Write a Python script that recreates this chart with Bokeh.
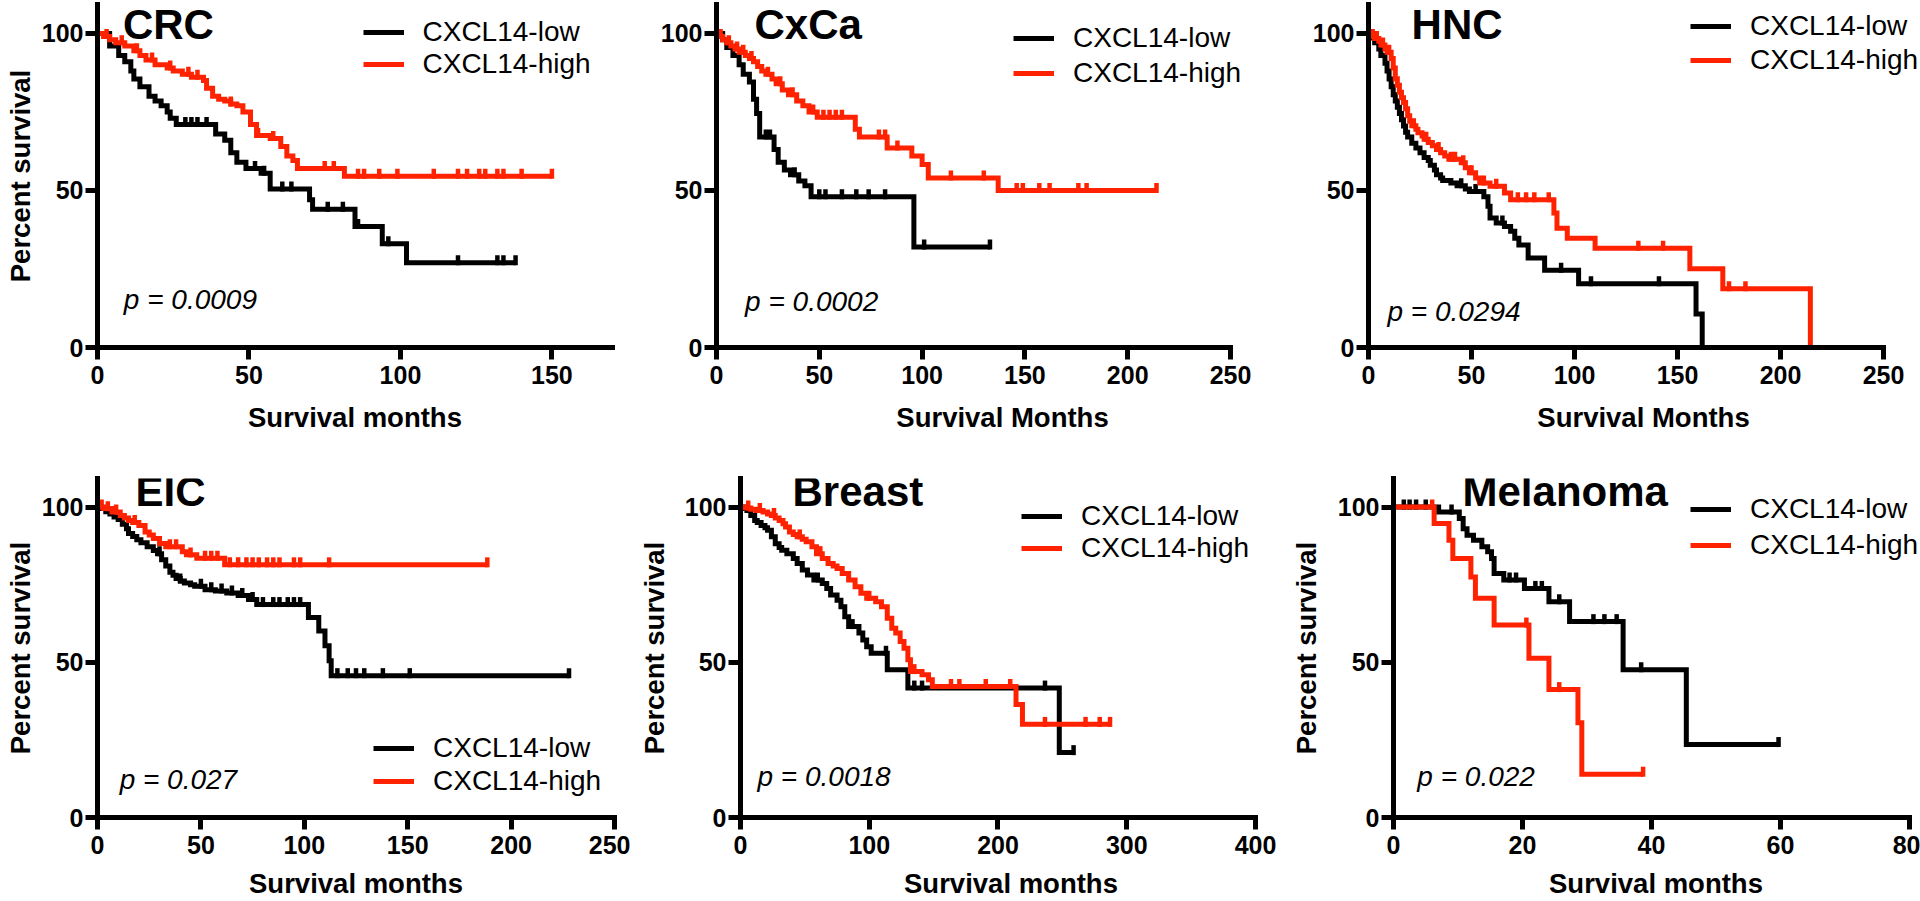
import numpy as np
from bokeh.plotting import figure
from bokeh.models import FixedTicker, Legend, LegendItem, Label, Range1d
from bokeh.layouts import column, row
from bokeh.embed import file_html
from bokeh.resources import INLINE

# ---------------- data ----------------
labels = ["CXCL14-low", "CXCL14-high"]

# CRC
crc_low_t = [0, 4, 7, 9, 11, 12, 14, 17, 19, 21, 23, 24, 26, 39, 42, 44, 46, 49, 54, 57, 70, 71, 85, 94, 102, 138]
crc_low_s = [100, 96, 93, 91, 88, 85.5, 83, 80, 78.5, 77, 75, 73, 71, 68, 66, 62, 59, 57, 55.5, 50.5, 47, 44, 38.5, 33, 27, 27]
crc_low_c = [29, 31, 33, 36, 52, 55, 61, 64, 76, 81, 86, 96, 119, 132, 134, 138]
crc_high_t = [0, 2, 4, 6, 9, 12, 14, 16, 19, 23, 25, 28, 31, 35, 36, 38, 40, 42, 44, 46, 48, 50.5, 52.5, 57, 60.5, 62.5, 64.5, 66, 81.5, 150]
crc_high_s = [100, 99, 98, 97, 96, 94.5, 93, 91.5, 90, 89, 88, 87, 86, 85, 82.5, 80, 79, 78.5, 77.5, 77, 75, 71, 67.5, 66.5, 64, 61, 59.5, 57, 54.5, 54.5]
crc_high_c = [3, 8, 13, 18, 24, 30, 33, 44, 53, 58, 75, 78, 86, 88, 93, 99, 111, 119, 122, 126, 128, 132, 134, 140, 150]

# CxCa
cxca_low_t = [0, 3, 5, 8, 11, 13, 16, 18, 19.5, 21, 28, 30, 33, 36, 40, 43, 46, 96, 133]
cxca_low_s = [100, 98, 95.5, 93, 90, 87, 84.5, 79, 74.5, 67, 63, 59, 56.5, 55, 53, 51.5, 48, 32, 32]
cxca_low_c = [24, 26, 38, 50, 53, 61, 68, 74, 82, 101, 133]
cxca_high_t = [0, 1, 3, 5, 7, 9, 11, 14, 16, 18, 20, 22, 24, 27, 29, 32, 35, 39, 42, 45, 49, 67.5, 69.5, 83, 95, 100, 103, 137, 214]
cxca_high_s = [100, 99, 98, 97, 96, 95, 94, 93, 92, 91, 89.5, 88, 87, 85.5, 84, 82, 80.5, 78.5, 77, 75, 73.3, 69.5, 67, 63.5, 61, 58.3, 54, 50, 50]
cxca_high_c = [2, 6, 10, 13, 17, 25, 31, 37, 47, 52, 55, 58, 61, 79, 82, 88, 114, 130, 146, 149, 157, 162, 176, 180, 214]

# HNC
hnc_low_t = [0, 2, 3, 5, 6, 8, 9, 10, 11, 12, 13, 14, 15, 16, 17, 18, 19, 21, 23, 25, 27, 29, 30, 32, 33, 35, 36, 40, 43, 47, 49, 56, 58, 59, 62, 66, 69, 71, 73, 77.5, 85.5, 102, 159, 162]
hnc_low_s = [100, 98.5, 97, 95, 93, 90.5, 88, 85.5, 83, 80.5, 78.5, 76.5, 74.5, 72.5, 70.5, 68.5, 67, 65, 63.5, 62, 60.5, 59.5, 58, 56.5, 55, 54, 53.2, 52.4, 51.5, 50.5, 49.7, 48, 45, 41.2, 39.6, 38.5, 37, 34.8, 32.6, 28.5, 24.6, 20.3, 10.7, 0]
hnc_low_c = [45, 52, 65, 93.5, 108, 141]
hnc_high_t = [0, 1, 3, 5, 6, 8, 9, 11, 12, 13, 14, 15, 16, 17, 18, 19, 20, 21, 23, 24, 26, 27, 29, 31, 33, 35, 37, 39, 45, 47, 49, 52, 54, 59, 66, 69, 90, 91.5, 96.5, 110, 156, 172, 214.5]
hnc_high_s = [100, 99, 98.4, 97.5, 96.3, 95, 94, 92, 89, 85.6, 83.5, 81.3, 79.5, 78, 76, 73.8, 72, 70.6, 69.5, 68.4, 67.3, 66.3, 65.3, 64.2, 63, 62, 61, 59.9, 58.8, 57.2, 55.6, 54, 52.4, 51.3, 49.2, 47, 42.8, 38, 34.8, 31.6, 25.1, 18.7, 0]
hnc_high_c = [2, 4, 7, 10, 22, 28, 34, 40, 42, 46, 50, 56, 62, 72.5, 76.5, 80.5, 87.5, 131, 143, 175, 183]

# EIC
eic_low_t = [0, 2, 4, 6, 8, 10, 12, 14, 15, 17, 19, 21, 24, 27, 29, 31, 33, 35, 36.5, 38, 40, 42, 45, 47, 52, 57, 62.5, 68, 73, 77, 102, 107, 110, 112, 113, 228]
eic_low_s = [100, 99.5, 98.5, 97.8, 96.8, 96, 94.5, 93, 91.5, 90.5, 89.5, 88.5, 87.2, 86, 85, 83, 81, 79, 78, 77, 76.2, 75.5, 75, 74.5, 73.4, 73, 72.3, 71.5, 70.2, 68.6, 64.4, 60.1, 55.3, 50.5, 45.7, 45.7]
eic_low_c = [30, 40, 50, 55, 60, 65, 70, 75, 80, 85, 88, 92, 95, 98, 116, 121, 125, 129, 138, 151, 228]
eic_high_t = [0, 3, 7, 11, 13, 15, 17, 20, 23, 25, 27, 30, 33, 41, 43, 48, 61.5, 188.5]
eic_high_s = [100, 99.5, 98.4, 97.3, 96.5, 95.7, 95, 94.1, 92, 91, 89.9, 88.3, 87.2, 85.6, 84.6, 83.5, 81.4, 81.4]
eic_high_c = [2, 5, 9, 18, 35, 38, 45, 52, 55, 58, 64, 68, 72, 75, 78, 82, 85, 88, 95, 98, 112, 188.5]

# Breast
breast_low_t = [0, 3, 5, 8, 11, 13, 16, 19, 21, 24, 27, 30, 32, 36, 41, 44, 48, 52, 57, 63.5, 67, 70, 75, 78, 81, 84, 92, 95, 98, 101.5, 114, 130, 247.6, 258.7]
breast_low_s = [100, 99.5, 98.9, 97.3, 95.7, 95, 94.1, 93.3, 92.5, 90.4, 88.2, 87, 86.1, 85, 83.4, 81.8, 79.7, 78.1, 76.5, 75.4, 73.8, 71.7, 70, 67.9, 64.7, 61.5, 59.4, 57.2, 55, 52.9, 47.6, 41.7, 20.9, 20.9]
breast_low_c = [60, 87, 113, 135, 141, 236.5, 258.7]
breast_high_t = [0, 4, 8, 12, 17.5, 21, 24, 27, 30, 33, 35, 38, 41, 44, 48, 51, 55.5, 59, 63.5, 68, 72, 75, 79, 84, 89, 93.5, 98, 105, 109.5, 114, 117.5, 120.6, 124, 127, 130, 132, 141, 146, 149, 214, 219, 287]
breast_high_s = [100, 99.7, 99.3, 98.9, 98.4, 97.8, 97.3, 96.5, 95.7, 94.6, 93.6, 92, 91.2, 90.4, 89.6, 88.8, 87.2, 85, 83.4, 81.8, 81, 80.2, 78.6, 76.5, 74.3, 72.2, 70.6, 69.5, 67.9, 64.2, 61, 59.4, 56.7, 54.5, 50.8, 47, 46, 44.4, 42.2, 36.4, 30, 30]
breast_high_c = [6, 15, 26, 46, 62, 100, 135, 163.5, 170, 190.5, 209.5, 236.5, 268, 279, 287]

# Melanoma
mel_low_t = [0, 7, 10.2, 10.8, 11.4, 12.4, 13.7, 14.6, 15.2, 15.6, 17.1, 20.3, 24.1, 27.3, 35.6, 45.4, 59.7]
mel_low_s = [100, 98.4, 96.3, 93, 90.9, 89.3, 87.2, 85.6, 83.4, 78.6, 76.5, 73.8, 69.5, 63.1, 47.6, 23.5, 23.5]
mel_low_c = [1.6, 2.5, 3.5, 5, 9, 18, 19, 22, 23, 25.7, 31, 32.7, 34.6, 38.4, 59.7]
mel_high_t = [0, 6.3, 8.6, 9.2, 12, 12.7, 15.6, 21, 24.1, 28.6, 29.2, 38.7]
mel_high_s = [100, 94.7, 89.3, 83.4, 77.5, 70.6, 62, 51.3, 41.2, 30.5, 13.9, 13.9]
mel_high_c = [6, 20.6, 25.7, 38.7]

p_values = ["p = 0.0009", "p = 0.0002", "p = 0.0294", "p = 0.027", "p = 0.0018", "p = 0.022"]
titles = ["CRC", "CxCa", "HNC", "EIC", "Breast", "Melanoma"]

# ---------------- style ----------------
BLACK = "#000000"
RED = "#FF2200"
FONT = "Liberation Sans"
PV_RAISE_PX = 11

# w/h: figure size; bl/br/bt/bb: borders; xmax: right end of frame; xb: axis extent
panels = [
    dict(title=titles[0], pv=p_values[0], w=640, h=455, bl=97, br=28, bt=4, bb=108, xmax=170, xb=170, ymax=109.2,
         xt=[0, 50, 100, 150], xlab="Survival months", ylab="Percent survival", yls=3, xls=15,
         tpos=(8.4, 100.3), traise=8, ppos=(8.7, 11.8), leg=(265.5, 267, -1),
         low=(crc_low_t, crc_low_s, crc_low_c), high=(crc_high_t, crc_high_s, crc_high_c)),
    dict(title=titles[1], pv=p_values[1], w=650, h=455, bl=76, br=2, bt=4, bb=108, xmax=278.2, xb=250, ymax=109.2,
         xt=[0, 50, 100, 150, 200, 250], xlab="Survival Months", ylab=None, yls=0, xls=15,
         tpos=(18.5, 100.3), traise=8, ppos=(13.9, 11.1), leg=(297, 258, 3),
         low=(cxca_low_t, cxca_low_s, cxca_low_c), high=(cxca_high_t, cxca_high_s, cxca_high_c)),
    dict(title=titles[2], pv=p_values[2], w=630, h=455, bl=78, br=2, bt=4, bb=108, xmax=267, xb=250, ymax=109.2,
         xt=[0, 50, 100, 150, 200, 250], xlab="Survival Months", ylab=None, yls=0, xls=15,
         tpos=(20.9, 100.3), traise=8, ppos=(9.2, 8.0), leg=(322, 271, 2),
         low=(hnc_low_t, hnc_low_s, hnc_low_c), high=(hnc_high_t, hnc_high_s, hnc_high_c)),
    dict(title=titles[3], pv=p_values[3], w=630, h=446, bl=97, br=16, bt=23, bb=81, xmax=250, xb=250, ymax=109.2,
         xt=[0, 50, 100, 150, 200, 250], xlab="Survival months", ylab="Percent survival", yls=3, xls=11,
         tpos=(18.4, 100.5), traise=14, ppos=(10.7, 8.6), leg=(276, 20, 1),
         low=(eic_low_t, eic_low_s, eic_low_c), high=(eic_high_t, eic_high_s, eic_high_c)),
    dict(title=titles[4], pv=p_values[4], w=653, h=446, bl=110, br=2, bt=23, bb=81, xmax=420.2, xb=400, ymax=109.2,
         xt=[0, 100, 200, 300, 400], xlab="Survival months", ylab="Percent survival", yls=12, xls=11,
         tpos=(40.4, 100.5), traise=14, ppos=(13.2, 9.6), leg=(281, 253, 0),
         low=(breast_low_t, breast_low_s, breast_low_c), high=(breast_high_t, breast_high_s, breast_high_c)),
    dict(title=titles[5], pv=p_values[5], w=637, h=446, bl=110, br=2, bt=23, bb=81, xmax=81.4, xb=80, ymax=109.2,
         xt=[0, 20, 40, 60, 80], xlab="Survival months", ylab="Percent survival", yls=13, xls=11,
         tpos=(10.7, 100.5), traise=14, ppos=(3.7, 9.6), leg=(297, 256, 4),
         low=(mel_low_t, mel_low_s, mel_low_c), high=(mel_high_t, mel_high_s, mel_high_c)),
]


def censor_y(t, s, c, lift):
    t = np.asarray(t, float)
    s = np.asarray(s, float)
    idx = np.searchsorted(t, np.asarray(c, float), side="right") - 1
    return s[idx] + lift


def make_panel(cfg):
    p = figure(width=cfg["w"], height=cfg["h"],
               x_range=Range1d(0, cfg["xmax"]), y_range=Range1d(0, cfg["ymax"]),
               output_backend="svg", toolbar_location=None,
               min_border_left=cfg["bl"], min_border_right=cfg["br"],
               min_border_top=cfg["bt"], min_border_bottom=cfg["bb"])
    p.outline_line_color = None
    p.grid.visible = False
    p.background_fill_color = "white"
    p.border_fill_color = "white"

    frame_h = cfg["h"] - cfg["bt"] - cfg["bb"]
    px_per_unit = frame_h / cfg["ymax"]
    lift = 2.5 / px_per_unit

    p.xaxis.ticker = FixedTicker(ticks=cfg["xt"], minor_ticks=[])
    p.yaxis.ticker = FixedTicker(ticks=[0, 50, 100], minor_ticks=[])
    p.xaxis.bounds = (0, cfg["xb"])
    for ax in (p.xaxis[0], p.yaxis[0]):
        ax.axis_line_width = 5
        ax.axis_line_cap = "square"
        ax.major_tick_line_width = 5
        ax.major_tick_out = 12
        ax.major_tick_in = 0
        ax.minor_tick_line_color = None
        ax.major_label_text_font = FONT
        ax.major_label_text_font_size = "25px"
        ax.major_label_text_font_style = "bold"
        ax.major_label_text_color = BLACK
        ax.axis_label_text_font = FONT
        ax.axis_label_text_font_size = "27.5px"
        ax.axis_label_text_font_style = "bold"
        ax.axis_label_text_color = BLACK
    p.xaxis.major_label_standoff = 6
    p.yaxis.major_label_standoff = 2
    p.xaxis.axis_label = cfg["xlab"]
    p.xaxis.axis_label_standoff = cfg["xls"]
    if cfg["ylab"]:
        p.yaxis.axis_label = cfg["ylab"]
        p.yaxis.axis_label_standoff = cfg["yls"]

    items = []
    for (t, s, c), color, lab in ((cfg["low"], BLACK, labels[0]), (cfg["high"], RED, labels[1])):
        r_line = p.step(x=t, y=s, mode="after", line_color=color, line_width=5, line_join="miter")
        r_tick = p.scatter(x=c, y=censor_y(t, s, c, lift), marker="dash", angle=np.pi / 2,
                           size=10, line_color=color, line_width=4.5, fill_color=color)
        items.append(LegendItem(label=lab, renderers=[r_line, r_tick]))

    vx, vy, sp = cfg["leg"]
    legend = Legend(items=items, location=(vx, vy), padding=0, margin=0, spacing=sp,
                    glyph_width=41, glyph_height=32, label_height=32, label_standoff=19,
                    label_text_font=FONT, label_text_font_size="28px", label_text_color=BLACK,
                    background_fill_alpha=0, border_line_alpha=0)
    p.add_layout(legend)

    p.add_layout(Label(x=cfg["tpos"][0], y=cfg["tpos"][1] + cfg["traise"] / px_per_unit,
                       text=cfg["title"], text_font=FONT,
                       text_font_size="42px", text_font_style="bold", text_color=BLACK,
                       text_baseline="alphabetic", text_align="left"))
    p.add_layout(Label(x=cfg["ppos"][0], y=cfg["ppos"][1] + PV_RAISE_PX / px_per_unit,
                       text=cfg["pv"], text_font=FONT,
                       text_font_size="28px", text_font_style="italic", text_color=BLACK,
                       text_baseline="alphabetic", text_align="left"))
    return p


figs = [make_panel(c) for c in panels]
layout = column(row(*figs[:3], spacing=0), row(*figs[3:], spacing=0), spacing=0)

with open("out.html", "w") as f:
    f.write(file_html(layout, INLINE))
